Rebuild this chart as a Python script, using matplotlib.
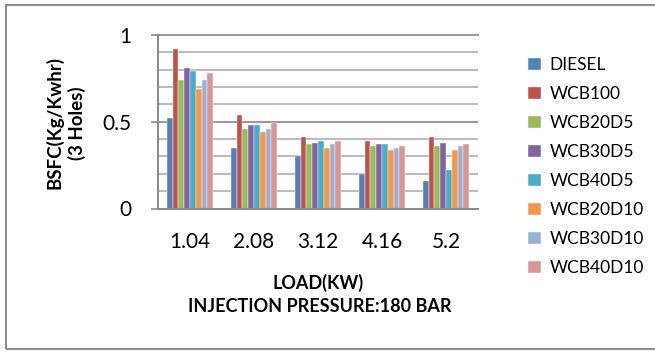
import numpy as np
import matplotlib
matplotlib.use('Agg')
import matplotlib.pyplot as plt
from matplotlib.patches import Rectangle

plt.rcParams['font.family'] = ['Lato', 'DejaVu Sans']

loads = ['1.04', '2.08', '3.12', '4.16', '5.2']
fuels = ['DIESEL', 'WCB100', 'WCB20D5', 'WCB30D5', 'WCB40D5',
         'WCB20D10', 'WCB30D10', 'WCB40D10']
colors = ['#4F81BD', '#C0504D', '#9BBB59', '#8064A2', '#4BACC6',
          '#F79646', '#95B3D7', '#D99694']

diesel   = [0.52, 0.35, 0.30, 0.20, 0.16]
wcb100   = [0.92, 0.54, 0.41, 0.39, 0.41]
wcb20d5  = [0.74, 0.46, 0.37, 0.36, 0.36]
wcb30d5  = [0.81, 0.48, 0.38, 0.37, 0.38]
wcb40d5  = [0.79, 0.48, 0.39, 0.37, 0.22]
wcb20d10 = [0.69, 0.44, 0.35, 0.34, 0.34]
wcb30d10 = [0.74, 0.46, 0.37, 0.35, 0.36]
wcb40d10 = [0.78, 0.49, 0.39, 0.36, 0.37]
series = [diesel, wcb100, wcb20d5, wcb30d5, wcb40d5, wcb20d10, wcb30d10, wcb40d10]

W, H = 655, 352
fig = plt.figure(figsize=(W / 100, H / 100), dpi=100)
ax = fig.add_axes([158 / W, (H - 208.5) / H, 320 / W, 173.5 / H])

x = np.arange(len(loads))
n = len(series)
bw = 0.72 / n
for i, (vals, c, name) in enumerate(zip(series, colors, fuels)):
    ax.bar(x - 0.36 + bw * (i + 0.5), vals, bw, color=c, label=name,
           edgecolor='white', linewidth=0.3, zorder=3)

ax.set_xlim(-0.5, len(loads) - 0.5)
ax.set_ylim(0, 1)
ax.set_yticks([0, 0.5, 1])
ax.set_yticklabels(['0', '0.5', '1'])
ax.set_yticks(np.arange(0.1, 1.0, 0.1), minor=True)
ax.set_xticks(x)
ax.set_xticklabels(loads)

# gridlines: major darker, minor lighter
for v in np.arange(0.1, 1.0, 0.1):
    if abs(v - 0.5) > 1e-6:
        ax.axhline(v, color='#BDBDBD', lw=1.5, zorder=1)
ax.axhline(0.5, color='#9A9A9A', lw=1.5, zorder=1)
ax.axhline(1.0, color='#9A9A9A', lw=1.5, zorder=1, clip_on=False)

for s in ['top', 'right']:
    ax.spines[s].set_visible(False)
ax.spines['left'].set_color('#8C8C8C')
ax.spines['left'].set_linewidth(1.5)
ax.spines['bottom'].set_color('#8C8C8C')
ax.spines['bottom'].set_linewidth(1.5)
ax.spines['bottom'].set_zorder(4)

ax.tick_params(axis='y', which='major', length=5, width=1.2, color='#8C8C8C',
               pad=14, labelsize=15)
ax.tick_params(axis='y', which='minor', length=0)
ax.tick_params(axis='x', length=0, pad=17, labelsize=15)

fig.text(66 / W, 1 - 123 / H, 'BSFC(Kg/Kwhr)\n(3 Holes)', rotation=90,
         ha='center', va='center', fontsize=13.5, fontweight='bold',
         linespacing=1.3)
fig.text(318 / W, 1 - 283 / H, 'LOAD(KW)', ha='center', va='center',
         fontsize=13, fontweight='bold')
fig.text(320 / W, 1 - 306 / H, 'INJECTION PRESSURE:180 BAR', ha='center',
         va='center', fontsize=13, fontweight='bold')

leg = fig.legend(loc='upper left', bbox_to_anchor=(528 / W, 1 - 57 / H),
                 frameon=False, fontsize=12.5, handlelength=0.75,
                 handleheight=0.75, handletextpad=0.5, labelspacing=0.75,
                 borderaxespad=0, borderpad=0)

fig.patches.append(Rectangle((6 / W, 3 / H), 660 / W, 344 / H,
                             transform=fig.transFigure, fill=False,
                             edgecolor='#8C8C8C', lw=1.5))

fig.savefig('out.png', dpi=100)
